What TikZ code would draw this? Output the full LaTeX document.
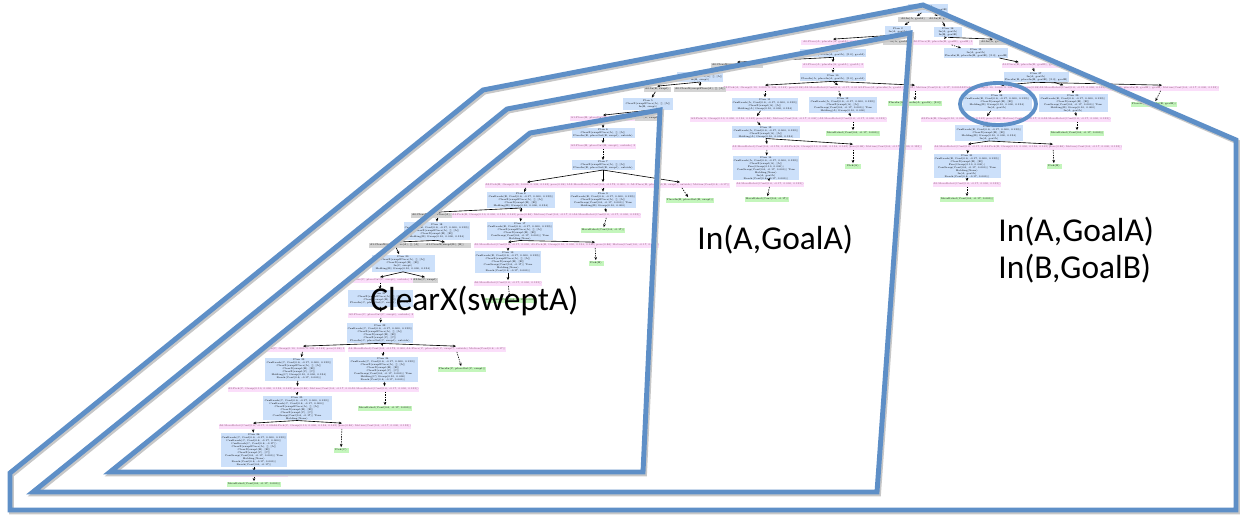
\documentclass[tikz,border=0pt]{standalone}
\usepackage{fontspec}
\usetikzlibrary{arrows.meta,positioning}
\newfontfamily\labelfont{Carlito}

\definecolor{planblue}{RGB}{204,224,250}
\definecolor{actpink}{RGB}{251,222,250}
\definecolor{donegray}{RGB}{212,212,212}
\definecolor{primgreen}{RGB}{196,246,188}
\definecolor{hullblue}{RGB}{94,143,199}

\tikzset{
  box/.style={inner sep=0.3pt, align=center, font=\fontsize{1.4}{1.7}\selectfont, minimum height=0.1cm},
  plan/.style={box, fill=planblue},
  act/.style={box, fill=actpink, text=black!55!magenta},
  done/.style={box, fill=donegray},
  prim/.style={box, fill=primgreen},
  wd/.style={minimum width=0.02cm*#1},
  ht/.style={minimum height=0.02cm*#1},
  link/.style={-{Stealth[length=1.8pt,width=1.5pt]}, line width=0.35pt},
  sub/.style={link, dash pattern=on 0.8pt off 0.6pt},
  hull/.style={draw=hullblue, line width=2.8pt, line join=miter},
  hullshadow/.style={draw=black!22, line width=2.8pt, line join=miter},
  biglabel/.style={font=\labelfont\fontsize{19}{21}\selectfont, align=left, anchor=west, inner sep=0pt},
}

\begin{document}
\begin{tikzpicture}[x=0.02cm, y=-0.02cm]
\useasboundingbox[fill=white] (0,0) rectangle (1241,514);

% Top of the plan tree
\node[plan, wd=26, ht=9] (p0) at (928,8) {Plan 1\\In(A, goalA) In(B, goalB)};
\node[done, wd=30] (g1) at (913,19) {A0:In(A, goalA)};
\node[done, wd=30] (g2) at (941,19) {A0:In(B, goalB)};
\node[plan, wd=26, ht=9] (p1) at (898,30) {Plan 2\\In(A, goalA)};
\node[plan, wd=28, ht=10] (p2) at (948,32) {Plan 16\\In(A, goalA)\\In(B, goalB)};
\node[act, wd=64] (a1) at (833,42) {A0:Place(A, placeIn(A, goalA), goalA) 1};
\node[done, wd=28] (g3) at (897,42) {A0:In(A, goalA)};
\node[act, wd=58] (a2) at (943,42) {A0:Place(B, placeIn(B, goalB), goalB) 1};
\node[done, wd=28] (g4) at (993,42) {A0:In(A, goalA)};

% Middle subtree: In(A,GoalA)
\node[plan, wd=66, ht=8] (p3) at (833,53) {Plan 3\\PlaceIn(A, placeIn(A, goalA), [2.0], goalA)};
\node[done, wd=52] (g5) at (737,65) {A0:ClearX(sweptPlace(A), [], [A])};
\node[act, wd=62] (a3) at (833,65) {A1:Place(A, placeIn(A, goalA), goalA) 2};
\node[plan, wd=66, ht=8] (p4) at (833,77) {Plan 10\\PlaceIn(A, placeIn(A, goalA), [2.0], goalA)};
\node[act, wd=66] (a4) at (765,88) {A2:Pick(A, Grasp(0.10, 0.000, 0.134, 0.142) pose(0.86) 1};
\node[act, wd=60] (a5) at (838,88) {A2:MoveRobot(Conf(0.6, -0.17, 0.000, 0.133))};
\node[act, wd=96] (a6) at (915,88) {A2:Place(A, placeIn(A, goalA), goalA) Motion(Conf(0.6, -0.17, 0.000, 0.133))};
\node[plan, wd=66, ht=13] (p5) at (765,104) {Plan 11\\CanReach(A, Conf(0.6, -0.17, 0.000, 0.133))\\ClearX(swept(A), [A])\\Holding(A) Grasp(0.10, 0.000, 0.134)};
\node[plan, wd=68, ht=16] (p6) at (843,105) {Plan 12\\CanReach(A, Conf(0.6, -0.17, 0.000, 0.133))\\ClearX(swept(A), [A])\\CanGrasp(Conf(0.6, -0.17, 0.000)) True\\Holding(A) Grasp(0.10, 0.000)};
\node[prim, wd=46] (n1) at (915,103) {PlaceIn(A, placeIn(A, goalA), [2.0])};
\node[act, wd=86] (a7) at (755,119) {A3:Pick(A, Grasp(0.10, 0.000, 0.134, 0.142) pose(0.86) Motion(Conf(0.6, -0.17, 0.000))};
\node[act, wd=60] (a8) at (853,119) {A3:MoveRobot(Conf(0.6, -0.17, 0.000, 0.133))};
\node[prim, wd=47] (n2) at (853,133) {MoveRobot(Conf(0.6, -0.17, 0.000))};
\node[plan, wd=68, ht=12] (p7) at (766,132) {Plan 13\\CanReach(A, Conf(0.6, -0.17, 0.000, 0.133))\\ClearX(swept(A), [A])\\Holding(A) Grasp(0.10, 0.000, 0.134)};
\node[act, wd=60] (a9) at (767,147) {A3:MoveRobot(Conf(0.6, -0.176, 0.000, 0.133))};
\node[act, wd=110] (a10) at (853,147) {A3:Pick(A, Grasp(0.10, 0.000, 0.134, 0.142) pose(0.86) Motion(Conf(0.6, -0.17, 0.000, 0.133))};
\node[prim, wd=16] (n3) at (853,166) {Pick(A)};
\node[plan, wd=66, ht=24] (p8) at (766,168) {Plan 14\\CanReach(A, Conf(0.6, -0.17, 0.000, 0.133))\\ClearX(swept(A), [A])\\Free(Grasp(0.10, 0.000))\\CanGrasp(Conf(0.6, -0.17, 0.000)) True\\Holding(None)\\In(A, goalA)\\Reach(Conf(0.6, -0.17, 0.000))};
\node[act, wd=60] (a11) at (770,184) {A4:MoveRobot(Conf(0.6, -0.17, 0.000, 0.133))};
\node[prim, wd=38] (n4) at (767,199) {MoveRobot(Conf(0.6, -0.17))};

% Left subtree: ClearX(sweptA)
\node[plan, wd=46, ht=9] (p9) at (700,77) {Plan 4\\ClearX(sweptPlace(A), [], [A])\\In(B, swept)};
\node[done, wd=27] (g6) at (657,89) {A0:In(B, swept)};
\node[done, wd=50] (g7) at (700,89) {A0:ClearX(sweptPlace(A), [], [A])};
\node[plan, wd=50, ht=12] (p10) at (648,104) {Plan 5\\ClearX(sweptPlace(A), [], [A])\\In(B, swept)};
\node[act, wd=55] (a12) at (603,118) {A1:Place(B, placeOut(B, swept), outside) 2};
\node[done, wd=23] (g8) at (647,118) {A1:In(B, swept)};
\node[plan, wd=63, ht=9] (p11) at (603,133) {Plan 6\\ClearX(sweptPlace(A), [], [A])\\PlaceIn(B, placeOut(B, swept), outside)};
\node[act, wd=58] (a13) at (603,146) {A2:Place(B, placeOut(B, swept), outside) 3};
\node[plan, wd=63, ht=9] (p12) at (603,165) {Plan 7\\ClearX(sweptPlace(A), [], [A])\\PlaceIn(B, placeOut(B, swept), outside)};
\node[act, wd=68] (a14) at (527,185) {A3:Pick(B, Grasp(0.10, 0.000, 0.134, 0.142) pose(0.86) 1};
\node[act, wd=57] (a15) at (603,185) {A3:MoveRobot(Conf(0.6, -0.173, 0.000, 0.133))};
\node[act, wd=90] (a16) at (680,185) {A3:Place(B, placeOut(B, swept), outside) Motion(Conf(0.6, -0.17))};
\node[plan, wd=68, ht=15] (p13) at (521,200) {Plan 8\\CanReach(B, Conf(0.6, -0.17, 0.000, 0.133))\\ClearX(sweptPlace(A), [], [A])\\ClearX(swept(B), [B])\\Holding(B) Grasp(0.10, 0.000, 0.134)};
\node[plan, wd=63, ht=16] (p14) at (603,200) {Plan 9\\CanReach(B, Conf(0.6, -0.17, 0.000, 0.133))\\ClearX(sweptPlace(A), [], [A])\\CanGrasp(Conf(0.6, -0.17, 0.000)) True\\Holding(B) Grasp(0.10, 0.000)};
\node[prim, wd=40] (n5) at (690,200) {PlaceIn(B, placeOut(B, swept))};
\node[done, wd=52] (g9) at (437,215) {A0:ClearX(sweptPlace(A), [], [A])};
\node[act, wd=108] (a17) at (521,215) {A4:Pick(B, Grasp(0.10, 0.000, 0.134, 0.142) pose(0.86) Motion(Conf(0.6, -0.17, 0.000, 0.133))};
\node[act, wd=60] (a18) at (607,215) {A4:MoveRobot(Conf(0.6, -0.17, 0.000, 0.133))};
\node[prim, wd=35] (n6) at (603,230) {MoveRobot(Conf(0.6, -0.17))};
\node[plan, wd=66, ht=17] (p15) at (520,231) {Plan 17\\CanReach(B, Conf(0.6, -0.17, 0.000, 0.133))\\ClearX(sweptPlace(A), [], [A])\\ClearX(swept(B), [B])\\CanGrasp(Conf(0.6, -0.17, 0.000)) True\\Holding(None)};
\node[plan, wd=65, ht=18] (p16) at (437,231) {Plan 18\\CanReach(B, Conf(0.6, -0.17, 0.000, 0.133))\\ClearX(sweptPlace(A), [], [A])\\ClearX(swept(B), [B])\\Holding(B) Grasp(0.10, 0.000, 0.134)};
\node[act, wd=60] (a19) at (508,245) {A5:MoveRobot(Conf(0.6, -0.17, 0.000, 0.133))};
\node[act, wd=100] (a20) at (595,245) {A5:Pick(B, Grasp(0.10, 0.000, 0.134, 0.142) pose(0.86) Motion(Conf(0.6, -0.17, 0.000))};
\node[plan, wd=63, ht=19] (p17) at (508,262) {Plan 19\\CanReach(B, Conf(0.6, -0.17, 0.000, 0.133))\\ClearX(sweptPlace(A), [], [A])\\ClearX(swept(B), [B])\\CanGrasp(Conf(0.6, -0.17)) True\\Holding(None)\\Reach(Conf(0.6, -0.17, 0.000))};
\node[prim, wd=15] (n7) at (596,263) {Pick(B)};
\node[act, wd=60] (a21) at (508,283) {A6:MoveRobot(Conf(0.6, -0.17, 0.000, 0.133))};
\node[prim, wd=46] (n8) at (510,300) {MoveRobot(Conf(0.6, -0.17, 0.000))};
\node[done, wd=44] (g10) at (395,245) {A1:ClearX(sweptPlace(A), [], [A])};
\node[done, wd=52] (g11) at (445,245) {A1:ClearX(swept(B), [B])};
\node[plan, wd=63, ht=17] (p18) at (403,263) {Plan 20\\ClearX(sweptPlace(A), [], [A])\\ClearX(swept(B), [B])\\In(C, swept)\\Holding(B) Grasp(0.10, 0.000, 0.134)};
\node[act, wd=56] (a22) at (380,280) {A2:Place(C, placeOut(C, swept), outside) 2};
\node[done, wd=25] (g12) at (425,280) {A2:In(C, swept)};
\node[plan, wd=65, ht=17] (p19) at (380,298) {Plan 21\\ClearX(sweptPlace(A), [], [A])\\ClearX(swept(B), [B])\\PlaceIn(C, placeOut(C, swept), outside)};
\node[act, wd=58] (a23) at (381,315) {A3:Place(C, placeOut(C, swept), outside) 3};
\node[plan, wd=65, ht=20] (p20) at (380,333) {Plan 22\\CanReach(C, Conf(0.6, -0.17, 0.000, 0.133))\\ClearX(sweptPlace(A), [], [A])\\ClearX(swept(B), [B])\\ClearX(swept(C), [C])\\PlaceIn(C, placeOut(C, swept), outside)};
\node[act, wd=69] (a24) at (303,349) {A4:Pick(C, Grasp(0.10, 0.000, 0.134, 0.142) pose(0.86) 1};
\node[act, wd=62] (a25) at (383,349) {A4:MoveRobot(Conf(0.6, -0.173, 0.000, 0.133))};
\node[act, wd=82] (a26) at (456,349) {A4:Place(C, placeOut(C, swept), outside) Motion(Conf(0.6, -0.17))};
\node[plan, wd=68, ht=23] (p21) at (299,369) {Plan 23\\CanReach(C, Conf(0.6, -0.17, 0.000, 0.133))\\ClearX(sweptPlace(A), [], [A])\\ClearX(swept(B), [B])\\ClearX(swept(C), [C])\\Holding(C) Grasp(0.10, 0.000, 0.134)\\Reach(Conf(0.6, -0.17, 0.000))};
\node[plan, wd=69, ht=25] (p22) at (383,369) {Plan 24\\CanReach(C, Conf(0.6, -0.17, 0.000, 0.133))\\ClearX(sweptPlace(A), [], [A])\\ClearX(swept(B), [B])\\ClearX(swept(C), [C])\\CanGrasp(Conf(0.6, -0.17, 0.000)) True\\Holding(C) Grasp(0.10, 0.000)\\Reach(Conf(0.6, -0.17, 0.000))};
\node[prim, wd=45] (n9) at (462,369) {PlaceIn(C, placeOut(C, swept))};
\node[act, wd=107] (a27) at (297,389) {A5:Pick(C, Grasp(0.10, 0.000, 0.134, 0.142) pose(0.86) Motion(Conf(0.6, -0.17, 0.000, 0.133))};
\node[act, wd=62] (a28) at (385,389) {A5:MoveRobot(Conf(0.6, -0.17, 0.000, 0.133))};
\node[prim, wd=46] (n10) at (385,408) {MoveRobot(Conf(0.6, -0.17, 0.000))};
\node[plan, wd=69, ht=23] (p23) at (297,408) {Plan 25\\CanReach(C, Conf(0.6, -0.17, 0.000, 0.133))\\CanReach(C, Conf(0.6, -0.17, 0.000))\\ClearX(sweptPlace(A), [], [A])\\ClearX(swept(B), [B])\\ClearX(swept(C), [C])\\CanGrasp(Conf(0.6, -0.17)) True\\Holding(None)};
\node[act, wd=60] (a29) at (253,426) {A6:MoveRobot(Conf(0.6, -0.17, 0.000, 0.133))};
\node[act, wd=110] (a30) at (342,426) {A6:Pick(C, Grasp(0.10, 0.000, 0.134, 0.142) pose(0.86) Motion(Conf(0.6, -0.17, 0.000, 0.133))};
\node[prim, wd=15] (n11) at (341,450) {Pick(C)};
\node[plan, wd=65, ht=34] (p24) at (254,450) {Plan 26\\CanReach(C, Conf(0.6, -0.17, 0.000, 0.133))\\CanReach(C, Conf(0.6, -0.17, 0.000))\\CanReach(C, Conf(0.6, -0.17))\\ClearX(sweptPlace(A), [], [A])\\ClearX(swept(B), [B])\\ClearX(swept(C), [C])\\CanGrasp(Conf(0.6, -0.17, 0.000)) True\\Holding(None)\\Reach(Conf(0.6, -0.17, 0.000))\\Reach(Conf(0.6, -0.17))};
\node[act, wd=60] (a31) at (254,474) {A7:MoveRobot(Conf(0.6, -0.17, 0.000, 0.133))};
\node[prim, wd=48] (n12) at (254,484) {MoveRobot(Conf(0.6, -0.17, 0.000))};

% Right subtree: In(A,GoalA), In(B,GoalB)
\node[plan, wd=55, ht=8] (p25) at (976,53) {Plan 15\\In(A, goalA)\\PlaceIn(B, placeIn(B, goalB), [2.0], goalB)};
\node[act, wd=61] (a32) at (1032,65) {A1:Place(B, placeIn(B, goalB), goalB) 2};
\node[plan, wd=65, ht=10] (p26) at (1036,77) {Plan 27\\In(A, goalA)\\PlaceIn(B, placeIn(B, goalB), [2.0], goalB)};
\node[act, wd=70] (a33) at (1001,88) {A2:Pick(B, Grasp(0.10, 0.000, 0.134, 0.142) pose(0.86) 1};
\node[act, wd=68] (a34) at (1073,88) {A2:MoveRobot(Conf(0.6, -0.17, 0.000, 0.133))};
\node[act, wd=110] (a35) at (1162,88) {A2:Place(B, placeIn(B, goalB), goalB) Motion(Conf(0.6, -0.17, 0.000, 0.133))};
\node[plan, wd=69, ht=17] (p27) at (997,102) {Plan 28\\CanReach(B, Conf(0.6, -0.17, 0.000, 0.133))\\ClearX(swept(B), [B])\\Holding(B) Grasp(0.10, 0.000, 0.134)\\In(A, goalA)};
\node[plan, wd=69, ht=17] (p28) at (1073,103) {Plan 29\\CanReach(B, Conf(0.6, -0.17, 0.000, 0.133))\\ClearX(swept(B), [B])\\CanGrasp(Conf(0.6, -0.17, 0.000)) True\\Holding(B) Grasp(0.10, 0.000)\\In(A, goalA)};
\node[prim, wd=45] (n13) at (1154,104) {PlaceIn(B, placeIn(B, goalB))};
\node[act, wd=97] (a36) at (985,119) {A3:Pick(B, Grasp(0.10, 0.000, 0.134, 0.142) pose(0.86) Motion(Conf(0.6, -0.17, 0.000))};
\node[act, wd=61] (a37) at (1077,119) {A3:MoveRobot(Conf(0.6, -0.17, 0.000, 0.133))};
\node[prim, wd=49] (n14) at (1077,133) {MoveRobot(Conf(0.6, -0.17, 0.000))};
\node[plan, wd=68, ht=15] (p29) at (989,133) {Plan 30\\CanReach(B, Conf(0.6, -0.17, 0.000, 0.133))\\ClearX(swept(B), [B])\\Holding(B) Grasp(0.10, 0.000, 0.134)\\In(A, goalA)};
\node[act, wd=61] (a38) at (968,147) {A4:MoveRobot(Conf(0.6, -0.17, 0.000, 0.133))};
\node[act, wd=109] (a39) at (1053,147) {A4:Pick(B, Grasp(0.10, 0.000, 0.134, 0.142) pose(0.86) Motion(Conf(0.6, -0.17, 0.000, 0.133))};
\node[prim, wd=15] (n15) at (1054,166) {Pick(B)};
\node[plan, wd=67, ht=24] (p30) at (967,166) {Plan 31\\CanReach(B, Conf(0.6, -0.17, 0.000, 0.133))\\ClearX(swept(B), [B])\\Free(Grasp(0.10, 0.000))\\CanGrasp(Conf(0.6, -0.17, 0.000)) True\\Holding(None)\\In(A, goalA)\\Reach(Conf(0.6, -0.17, 0.000))};
\node[act, wd=61] (a40) at (967,184) {A5:MoveRobot(Conf(0.6, -0.17, 0.000, 0.133))};
\node[prim, wd=47] (n16) at (967,199) {MoveRobot(Conf(0.6, -0.17, 0.000))};

% Arcs
\draw[link] (p0) -- (g1);
\draw[link] (p0) -- (g2);
\draw[link] (g1) -- (p1);
\draw[link] (g2) -- (p2);
\draw[link] (p1.south) -- (a1.north);
\draw[link] (p1) -- (g3);
\draw[link] (p2) -- (a2);
\draw[link] (p2.south) -- (g4.north);
\draw[sub] (a1) -- (p3);
\draw[link] (p3.south) -- (g5.north);
\draw[link] (p3) -- (a3);
\draw[sub] (a3) -- (p4);
\draw[link] (p4.south) -- (a4.north);
\draw[link] (p4.south) -- (a5.north);
\draw[link] (p4.south) -- (a6.north);
\draw[sub] (a4) -- (p5);
\draw[sub] (a5) -- (p6);
\draw[sub] (a6) -- (n1);
\draw[link] (p5) -- (a7);
\draw[link] (p6) -- (a8);
\draw[sub] (a8) -- (n2);
\draw[link] (a7) -- (p7);
\draw[link] (p7.south) -- (a9.north);
\draw[link] (p7.south) -- (a10.north);
\draw[sub] (a10) -- (n3);
\draw[sub] (a9) -- (p8);
\draw[link] (p8) -- (a11);
\draw[sub] (a11) -- (n4);

\draw[link] (g5) -- (p9);
\draw[link] (p9.south) -- (g6.north);
\draw[link] (p9) -- (g7);
\draw[link] (g6) -- (p10);
\draw[link] (p10.south) -- (a12.north);
\draw[link] (p10) -- (g8);
\draw[sub] (a12) -- (p11);
\draw[link] (p11) -- (a13);
\draw[sub] (a13) -- (p12);
\draw[link] (p12.south) -- (a14.north);
\draw[link] (p12) -- (a15);
\draw[link] (p12.south) -- (a16.north);
\draw[link] (a14) -- (p13);
\draw[sub] (a15) -- (p14);
\draw[sub] (a16) -- (n5);
\draw[link] (p13.south) -- (g9.north);
\draw[link] (p13) -- (a17);
\draw[sub] (a17) -- (p15);
\draw[link] (p14) -- (a18);
\draw[sub] (a18) -- (n6);
\draw[link] (p15.south) -- (a19.north);
\draw[link] (p15.south) -- (a20.north);
\draw[sub] (a19) -- (p17);
\draw[sub] (a20) -- (n7);
\draw[link] (p17) -- (a21);
\draw[sub] (a21) -- (n8);
\draw[link] (g9) -- (p16);
\draw[link] (p16.south) -- (g10.north);
\draw[link] (p16.south) -- (g11.north);
\draw[link] (g10) -- (p18);
\draw[link] (p18.south) -- (a22.north);
\draw[link] (p18.south) -- (g12.north);
\draw[sub] (a22) -- (p19);
\draw[link] (p19) -- (a23);
\draw[sub] (a23) -- (p20);
\draw[link] (p20.south) -- (a24.north);
\draw[link] (p20) -- (a25);
\draw[link] (p20.south) -- (a26.north);
\draw[link] (a24) -- (p21);
\draw[link] (a25) -- (p22);
\draw[sub] (a26) -- (n9);
\draw[link] (p21) -- (a27);
\draw[link] (p22) -- (a28);
\draw[sub] (a28) -- (n10);
\draw[link] (a27) -- (p23);
\draw[link] (p23.south) -- (a29.north);
\draw[link] (p23.south) -- (a30.north);
\draw[sub] (a30) -- (n11);
\draw[sub] (a29) -- (p24);
\draw[link] (p24) -- (a31);
\draw[sub] (a31) -- (n12);

\draw[sub] (a2) -- (p25);
\draw[link] (p25) -- (a32);
\draw[sub] (a32) -- (p26);
\draw[link] (p26.south) -- (a33.north);
\draw[link] (p26) -- (a34);
\draw[link] (p26.south) -- (a35.north);
\draw[sub] (a33) -- (p27);
\draw[link] (a34) -- (p28);
\draw[sub] (a35) -- (n13);
\draw[link] (p27) -- (a36);
\draw[link] (p28) -- (a37);
\draw[sub] (a37) -- (n14);
\draw[link] (a36) -- (p29);
\draw[link] (p29.south) -- (a38.north);
\draw[link] (p29.south) -- (a39.north);
\draw[sub] (a39) -- (n15);
\draw[sub] (a38) -- (p30);
\draw[link] (p30) -- (a40);
\draw[sub] (a40) -- (n16);

% Nested outlines
\begin{scope}[shift={(1.5,2)}]
\draw[hullshadow] (10,473) -- (483,90) -- (923,5) -- (1236,140) -- (1236,510) -- (10,510) -- cycle;
\draw[hullshadow] (33,492) -- (507,109) -- (910,33) -- (877,492) -- cycle;
\draw[hullshadow] (110,472) -- (530,133) -- (660,110) -- (643,472) -- cycle;
\end{scope}
\draw[hull] (10,473) -- (483,90) -- (923,5) -- (1236,140) -- (1236,510) -- (10,510) -- cycle;
\draw[hull] (33,492) -- (507,109) -- (910,33) -- (877,492) -- cycle;
\draw[hull] (110,472) -- (530,133) -- (660,110) -- (643,472) -- cycle;
\draw[hull, line width=2.2pt] (998,104) ellipse [x radius=0.76cm, y radius=0.42cm];

% Goal labels
\node[biglabel] (goalA) at (697,240) {In(A,GoalA)};
\node[biglabel] (goalAB) at (998,250) {In(A,GoalA)\\In(B,GoalB)};
\node[biglabel] (clearA) at (370,301) {ClearX(sweptA)};

\end{tikzpicture}
\end{document}
